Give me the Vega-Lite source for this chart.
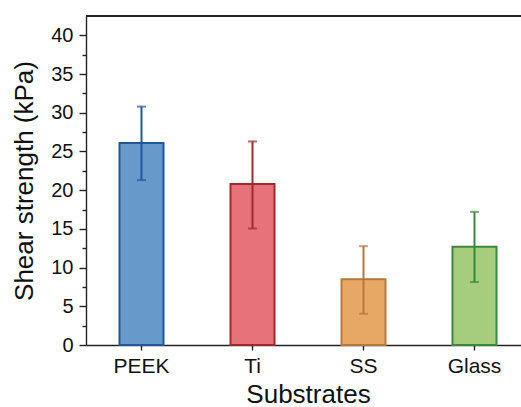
{
  "$schema": "https://vega.github.io/schema/vega-lite/v6.json",
  "width": 435,
  "height": 329,
  "autosize": {"type": "none"},
  "padding": {"left": 86, "top": 16, "right": 0, "bottom": 62},
  "background": "white",
  "config": {
    "view": {"stroke": null},
    "font": "Liberation Sans",
    "axis": {
      "domainColor": "#222222",
      "domainWidth": 1.4,
      "tickColor": "#222222",
      "tickWidth": 1.4,
      "labelFont": "Liberation Sans",
      "labelFontSize": 20,
      "labelColor": "#111111",
      "titleFont": "Liberation Sans",
      "titleFontSize": 26,
      "titleFontWeight": "normal",
      "titleColor": "#111111",
      "grid": false
    },
    "axisX": {"labelAngle": 0, "tickSize": 5, "labelPadding": 5, "titlePadding": 5, "labelFontSize": 21},
    "axisY": {
      "labelExpr": "datum.value % 5 === 0 ? datum.label : ''",
      "labelPadding": 6,
      "titlePadding": 13
    }
  },
  "data": {
    "values": [
      {"substrate": "PEEK", "mean": 26.1, "lower": 21.3, "upper": 30.8},
      {"substrate": "Ti", "mean": 20.8, "lower": 15.05, "upper": 26.3},
      {"substrate": "SS", "mean": 8.48, "lower": 4.04, "upper": 12.77},
      {"substrate": "Glass", "mean": 12.68, "lower": 8.13, "upper": 17.2}
    ]
  },
  "encoding": {
    "x": {
      "field": "substrate",
      "type": "nominal",
      "sort": null,
      "scale": {"range": [0, 444], "paddingInner": 0, "paddingOuter": 0},
      "title": "Substrates"
    }
  },
  "layer": [
    {
      "mark": {"type": "bar", "width": 44, "strokeWidth": 2},
      "encoding": {
        "y": {
          "field": "mean",
          "type": "quantitative",
          "title": "Shear strength (kPa)",
          "scale": {"domain": [0, 42.5], "nice": false, "zero": true},
          "axis": {
            "values": [0, 2.5, 5, 7.5, 10, 12.5, 15, 17.5, 20, 22.5, 25, 27.5, 30, 32.5, 35, 37.5, 40],
            "tickSize": {"condition": {"test": "datum.value % 5 === 0", "value": 7}, "value": 4}
          }
        },
        "fill": {
          "field": "substrate",
          "type": "nominal",
          "scale": {"domain": ["PEEK", "Ti", "SS", "Glass"], "range": ["#6799cb", "#e8727a", "#e6a864", "#a6cc7d"]},
          "legend": null
        },
        "stroke": {
          "field": "substrate",
          "type": "nominal",
          "scale": {"domain": ["PEEK", "Ti", "SS", "Glass"], "range": ["#22589a", "#9f2a2c", "#b9773a", "#38893b"]},
          "legend": null
        }
      }
    },
    {
      "mark": {"type": "rule", "strokeWidth": 2},
      "encoding": {
        "y": {
          "field": "lower",
          "type": "quantitative",
          "title": "Shear strength (kPa)",
          "axis": {
            "values": [0, 2.5, 5, 7.5, 10, 12.5, 15, 17.5, 20, 22.5, 25, 27.5, 30, 32.5, 35, 37.5, 40],
            "tickSize": {"condition": {"test": "datum.value % 5 === 0", "value": 7}, "value": 4}
          }
        },
        "y2": {"field": "upper"},
        "stroke": {"field": "substrate", "type": "nominal", "legend": null}
      }
    },
    {
      "mark": {"type": "tick", "size": 9, "thickness": 2},
      "encoding": {
        "y": {
          "field": "lower",
          "type": "quantitative",
          "title": "Shear strength (kPa)",
          "axis": {
            "values": [0, 2.5, 5, 7.5, 10, 12.5, 15, 17.5, 20, 22.5, 25, 27.5, 30, 32.5, 35, 37.5, 40],
            "tickSize": {"condition": {"test": "datum.value % 5 === 0", "value": 7}, "value": 4}
          }
        },
        "color": {"field": "substrate", "type": "nominal", "scale": {"domain": ["PEEK", "Ti", "SS", "Glass"], "range": ["#22589a", "#9f2a2c", "#b9773a", "#38893b"]}, "legend": null}
      }
    },
    {
      "mark": {"type": "tick", "size": 9, "thickness": 2},
      "encoding": {
        "y": {
          "field": "upper",
          "type": "quantitative",
          "title": "Shear strength (kPa)",
          "axis": {
            "values": [0, 2.5, 5, 7.5, 10, 12.5, 15, 17.5, 20, 22.5, 25, 27.5, 30, 32.5, 35, 37.5, 40],
            "tickSize": {"condition": {"test": "datum.value % 5 === 0", "value": 7}, "value": 4}
          }
        },
        "color": {"field": "substrate", "type": "nominal", "legend": null}
      }
    },
    {
      "mark": {"type": "rule", "color": "#222222", "strokeWidth": 1.4},
      "encoding": {
        "x": null,
        "y": {
          "datum": 42.5,
          "type": "quantitative",
          "title": "Shear strength (kPa)",
          "axis": {
            "values": [0, 2.5, 5, 7.5, 10, 12.5, 15, 17.5, 20, 22.5, 25, 27.5, 30, 32.5, 35, 37.5, 40],
            "tickSize": {"condition": {"test": "datum.value % 5 === 0", "value": 7}, "value": 4}
          }
        }
      }
    }
  ]
}
